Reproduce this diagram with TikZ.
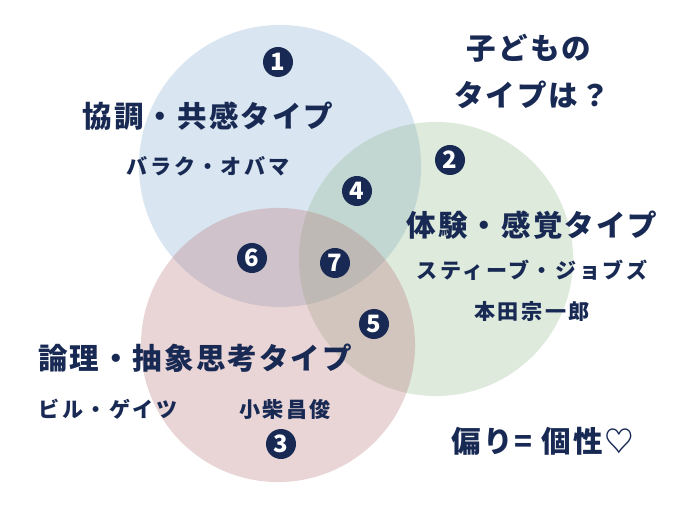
\documentclass[tikz,border=0pt]{standalone}
\usepackage{fontspec}
\setmainfont{Noto Sans CJK JP}
\newfontfamily\jpfont{Noto Sans CJK JP}[LetterSpace=12]
\newfontfamily\jptitlefont{Noto Sans CJK JP}[LetterSpace=7]
\usetikzlibrary{positioning}
\definecolor{navy}{RGB}{24,42,84}
\definecolor{blueset}{RGB}{128,168,205}
\definecolor{greenset}{RGB}{142,185,138}
\definecolor{redset}{RGB}{185,115,118}

\begin{document}
\begin{tikzpicture}[x = 0.025cm, y = -0.025cm, on grid, set/.style = {circle, inner sep = 0pt, fill opacity = 0.3}, title/.style = {text = navy, font = \jptitlefont\bfseries\fontsize{21}{25}\selectfont}, person/.style = {text = navy, font = \jpfont\bfseries\fontsize{15}{18}\selectfont}, num/.style = {circle, fill = navy, text = white, inner sep = 0pt, minimum size = 0.75cm, font = \bfseries\fontsize{17}{17}\selectfont}]
\useasboundingbox (0,0) rectangle (682,511);
\node[set, fill = blueset, minimum size = 7.05cm] (kyocho set) at (280,166) {};
\node[set, fill = greenset, minimum size = 6.85cm] (taiken set) at (436,259) {};
\node[set, fill = redset, minimum size = 6.85cm] (ronri set) at (278,345) {};

\node[title] (kodomo) at (529,48) {子どもの};
\node[title] (typeq) at (532,95) {タイプは？};

\node[title] (kyocho) at (208,116) {協調・共感タイプ};
\node[person, below = 1.25cm of kyocho] (obama) {バラク・オバマ};
\node[title] (taiken) at (532,225) {体験・感覚タイプ};
\node[person, below = 1.125cm of taiken] (jobs) {スティーブ・ジョブズ};
\node[person, below = 1.025cm of jobs] (honda) {本田宗一郎};
\node[title] (ronri) at (195,358) {論理・抽象思考タイプ};
\node[person] (gates) at (108,409) {ビル・ゲイツ};
\node[person] (koshiba) at (285,409) {小柴昌俊};

\node[num] (n1) at (278,62) {1};
\node[num] (n2) at (450,160) {2};
\node[num] (n3) at (281,444) {3};
\node[num] (n4) at (357,191) {4};
\node[num] (n5) at (374,324) {5};
\node[num] (n6) at (252,258) {6};
\node[num] (n7) at (335,263) {7};

\node[title] (kosei) at (543,441) {偏り= 個性♡};
\end{tikzpicture}
\end{document}
